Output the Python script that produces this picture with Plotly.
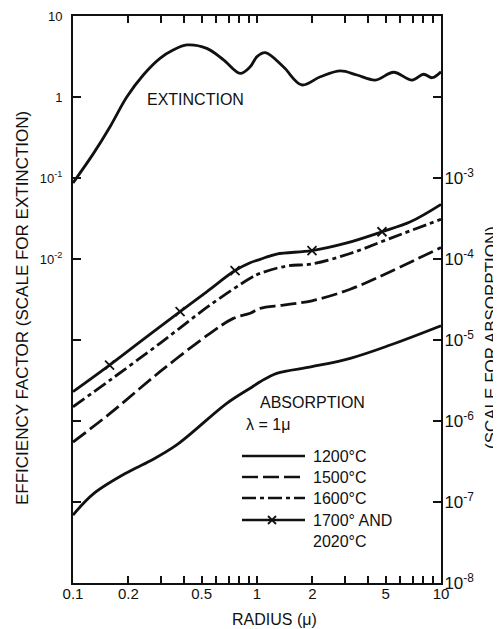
import plotly.graph_objects as go

# ---------------- data ----------------
ext_x = [0.1, 0.129, 0.159, 0.196, 0.241, 0.297, 0.35, 0.416, 0.533, 0.658, 0.81,
         0.918, 1.0, 1.11, 1.39, 1.75, 2.21, 2.84, 3.49, 4.4, 5.53, 6.96, 8.05, 8.94, 10]
ext_y = [0.087, 0.2, 0.43, 1.0, 1.87, 3.0, 3.8, 4.39, 3.98, 2.87, 1.96,
         2.36, 3.15, 3.52, 2.36, 1.41, 1.78, 2.1, 1.87, 1.62, 2.02, 1.62, 1.91, 1.73, 2.05]

abs1700_x = [0.1, 0.158, 0.241, 0.382, 0.533, 0.76, 0.918, 1.04, 1.28, 1.99, 3.08, 4.78, 6.82, 10]
abs1700_y = [2.3e-6, 4.9e-6, 1.02e-5, 2.24e-5, 3.94e-5, 7.2e-5, 9.0e-5, 9.9e-5, 1.15e-4,
             1.27e-4, 1.58e-4, 2.17e-4, 2.88e-4, 4.73e-4]
mark1700_x = [0.158, 0.382, 0.76, 1.99, 4.78]
mark1700_y = [4.9e-6, 2.24e-5, 7.2e-5, 1.27e-4, 2.17e-4]

abs1600_x = [0.1, 0.159, 0.297, 0.556, 0.918, 1.04, 1.45, 1.99, 3.21, 5.3, 10]
abs1600_y = [1.5e-6, 3.2e-6, 9.1e-6, 2.7e-5, 5.78e-5, 6.65e-5, 8.2e-5, 8.7e-5, 1.17e-4, 1.8e-4, 3.09e-4]

abs1500_x = [0.1, 0.159, 0.297, 0.556, 0.744, 0.918, 1.04, 1.39, 1.99, 3.21, 5.3, 10]
abs1500_y = [5.5e-7, 1.24e-6, 4.06e-6, 1.21e-5, 1.85e-5, 2.14e-5, 2.46e-5, 2.7e-5, 3.05e-5,
             4.23e-5, 6.97e-5, 1.39e-4]

abs1200_x = [0.1, 0.129, 0.196, 0.262, 0.366, 0.685, 0.918, 1.04, 1.28, 1.99, 3.21, 5.3, 10]
abs1200_y = [6.9e-8, 1.26e-7, 2.3e-7, 3.2e-7, 5.06e-7, 1.65e-6, 2.54e-6, 3.05e-6, 3.88e-6,
             4.68e-6, 5.94e-6, 8.67e-6, 1.5e-5]

x_tickvals = [0.1, 0.2, 0.3, 0.4, 0.5, 0.6, 0.7, 0.8, 0.9, 1, 2, 3, 4, 5, 6, 7, 8, 9, 10]
x_ticktext = ["0.1", "0.2", "", "", "0.5", "", "", "", "", "1", "2", "", "", "5", "", "", "", "", "10"]

yl_tickvals = [1e-6, 1e-5, 1e-4, 1e-3, 1e-2, 1e-1, 1, 10]
yl_ticktext = ["", "", "", "", "10<sup>-2</sup>", "10<sup>-1</sup>", "1", "10"]

yr_tickvals = [1e-8, 1e-7, 1e-6, 1e-5, 1e-4, 1e-3, 1e-2, 1e-1]
yr_ticktext = ["10<sup>-8</sup>", "10<sup>-7</sup>", "10<sup>-6</sup>", "10<sup>-5</sup>",
               "10<sup>-4</sup>", "10<sup>-3</sup>", "", ""]

legend_labels = ["1200°C", "1500°C", "1600°C", "1700° AND<br>2020°C"]

FONT = "Liberation Sans, Arial, sans-serif"
BLACK = "#111111"
LW = 2.8
DASH_1500 = "16px,5px"
DASH_1600 = "14px,4px,4px,4px"

fig = go.Figure()

fig.add_trace(go.Scatter(x=ext_x, y=ext_y, mode="lines", line=dict(color=BLACK, width=LW, shape="spline"),
                         yaxis="y", showlegend=False))
fig.add_trace(go.Scatter(x=abs1700_x, y=abs1700_y, mode="lines",
                         line=dict(color=BLACK, width=LW, shape="spline"), yaxis="y2", showlegend=False))
fig.add_trace(go.Scatter(x=mark1700_x, y=mark1700_y, mode="markers",
                         marker=dict(symbol="x-thin", size=9, line=dict(color=BLACK, width=1.8)),
                         yaxis="y2", showlegend=False))
fig.add_trace(go.Scatter(x=abs1600_x, y=abs1600_y, mode="lines",
                         line=dict(color=BLACK, width=LW, shape="spline", dash=DASH_1600),
                         yaxis="y2", showlegend=False))
fig.add_trace(go.Scatter(x=abs1500_x, y=abs1500_y, mode="lines",
                         line=dict(color=BLACK, width=LW, shape="spline", dash=DASH_1500),
                         yaxis="y2", showlegend=False))
fig.add_trace(go.Scatter(x=abs1200_x, y=abs1200_y, mode="lines",
                         line=dict(color=BLACK, width=LW, shape="spline"), yaxis="y2", showlegend=False))

# ---------------- geometry (page has an 8px body margin) ----------------
OFF = 8
W, H = 501 - OFF, 629 - OFF
L, R, T, B = 73 - OFF, 60, 16 - OFF, 46
PW, PH = W - L - R, H - T - B


def px(xp):
    return (xp - OFF - L) / PW


def py(yp):
    return (H - B - (yp - OFF)) / PH


def note(x, y, text, size=16, xanchor="center", yanchor="middle", **kw):
    return dict(xref="paper", yref="paper", x=px(x), y=py(y), text=text, showarrow=False,
                xanchor=xanchor, yanchor=yanchor, font=dict(family=FONT, size=size, color=BLACK), **kw)


shapes = []
annotations = []
rows_y = [456, 477, 498, 520]
dashes = ["solid", DASH_1500, DASH_1600, "solid"]
for ry, dsh, lab in zip(rows_y, dashes, legend_labels):
    shapes.append(dict(type="line", xref="paper", yref="paper", x0=px(242), x1=px(305),
                       y0=py(ry), y1=py(ry), line=dict(color=BLACK, width=2.4, dash=dsh)))
    multi = "<br>" in lab
    annotations.append(note(311, ry - 10 if multi else ry, lab, xanchor="left",
                            yanchor="top" if multi else "middle", align="left"))
# small cross on the 1700° legend key
for (xa, ya, xb, yb) in [(268, 516, 276, 524), (268, 524, 276, 516)]:
    shapes.append(dict(type="line", xref="paper", yref="paper", x0=px(xa), x1=px(xb),
                       y0=py(ya), y1=py(yb), line=dict(color=BLACK, width=1.8)))

annotations += [
    note(258, 402, "ABSORPTION", xanchor="left"),
    note(244, 424, "λ = 1μ", xanchor="left"),
    note(195, 99, "EXTINCTION"),
    note(22, 308, "EFFICIENCY FACTOR (SCALE FOR EXTINCTION)", size=17, textangle=-90),
    note(491, 338, "(SCALE FOR ABSORPTION)", size=17, textangle=-90),
    note(274, 619, "RADIUS (μ)"),
]

axis_common = dict(type="log", showgrid=False, zeroline=False, showline=True, linecolor=BLACK,
                   linewidth=2, ticks="inside", tickcolor=BLACK, tickwidth=1.6, tickmode="array",
                   automargin=False)

fig.update_layout(
    width=W, height=H,
    margin=dict(l=L, r=R, t=T, b=B, autoexpand=False),
    paper_bgcolor="white", plot_bgcolor="white",
    font=dict(family=FONT, color=BLACK),
    showlegend=False,
    xaxis=dict(**axis_common, range=[-1, 1], tickvals=x_tickvals, ticktext=x_ticktext,
               ticklen=7, mirror="ticks", ticklabelstandoff=-4,
               tickfont=dict(size=15, family=FONT, color=BLACK)),
    yaxis=dict(**axis_common, range=[-6, 1], tickvals=yl_tickvals, ticktext=yl_ticktext,
               ticklen=8, ticklabelstandoff=6, tickfont=dict(size=13, family=FONT, color=BLACK)),
    yaxis2=dict(**axis_common, range=[-8, -1], tickvals=yr_tickvals, ticktext=yr_ticktext,
                ticklen=8, overlaying="y", side="right", ticklabelstandoff=-2,
                tickfont=dict(size=17, family=FONT, color=BLACK)),
    shapes=shapes,
    annotations=annotations,
)

fig.write_html("out.html")
